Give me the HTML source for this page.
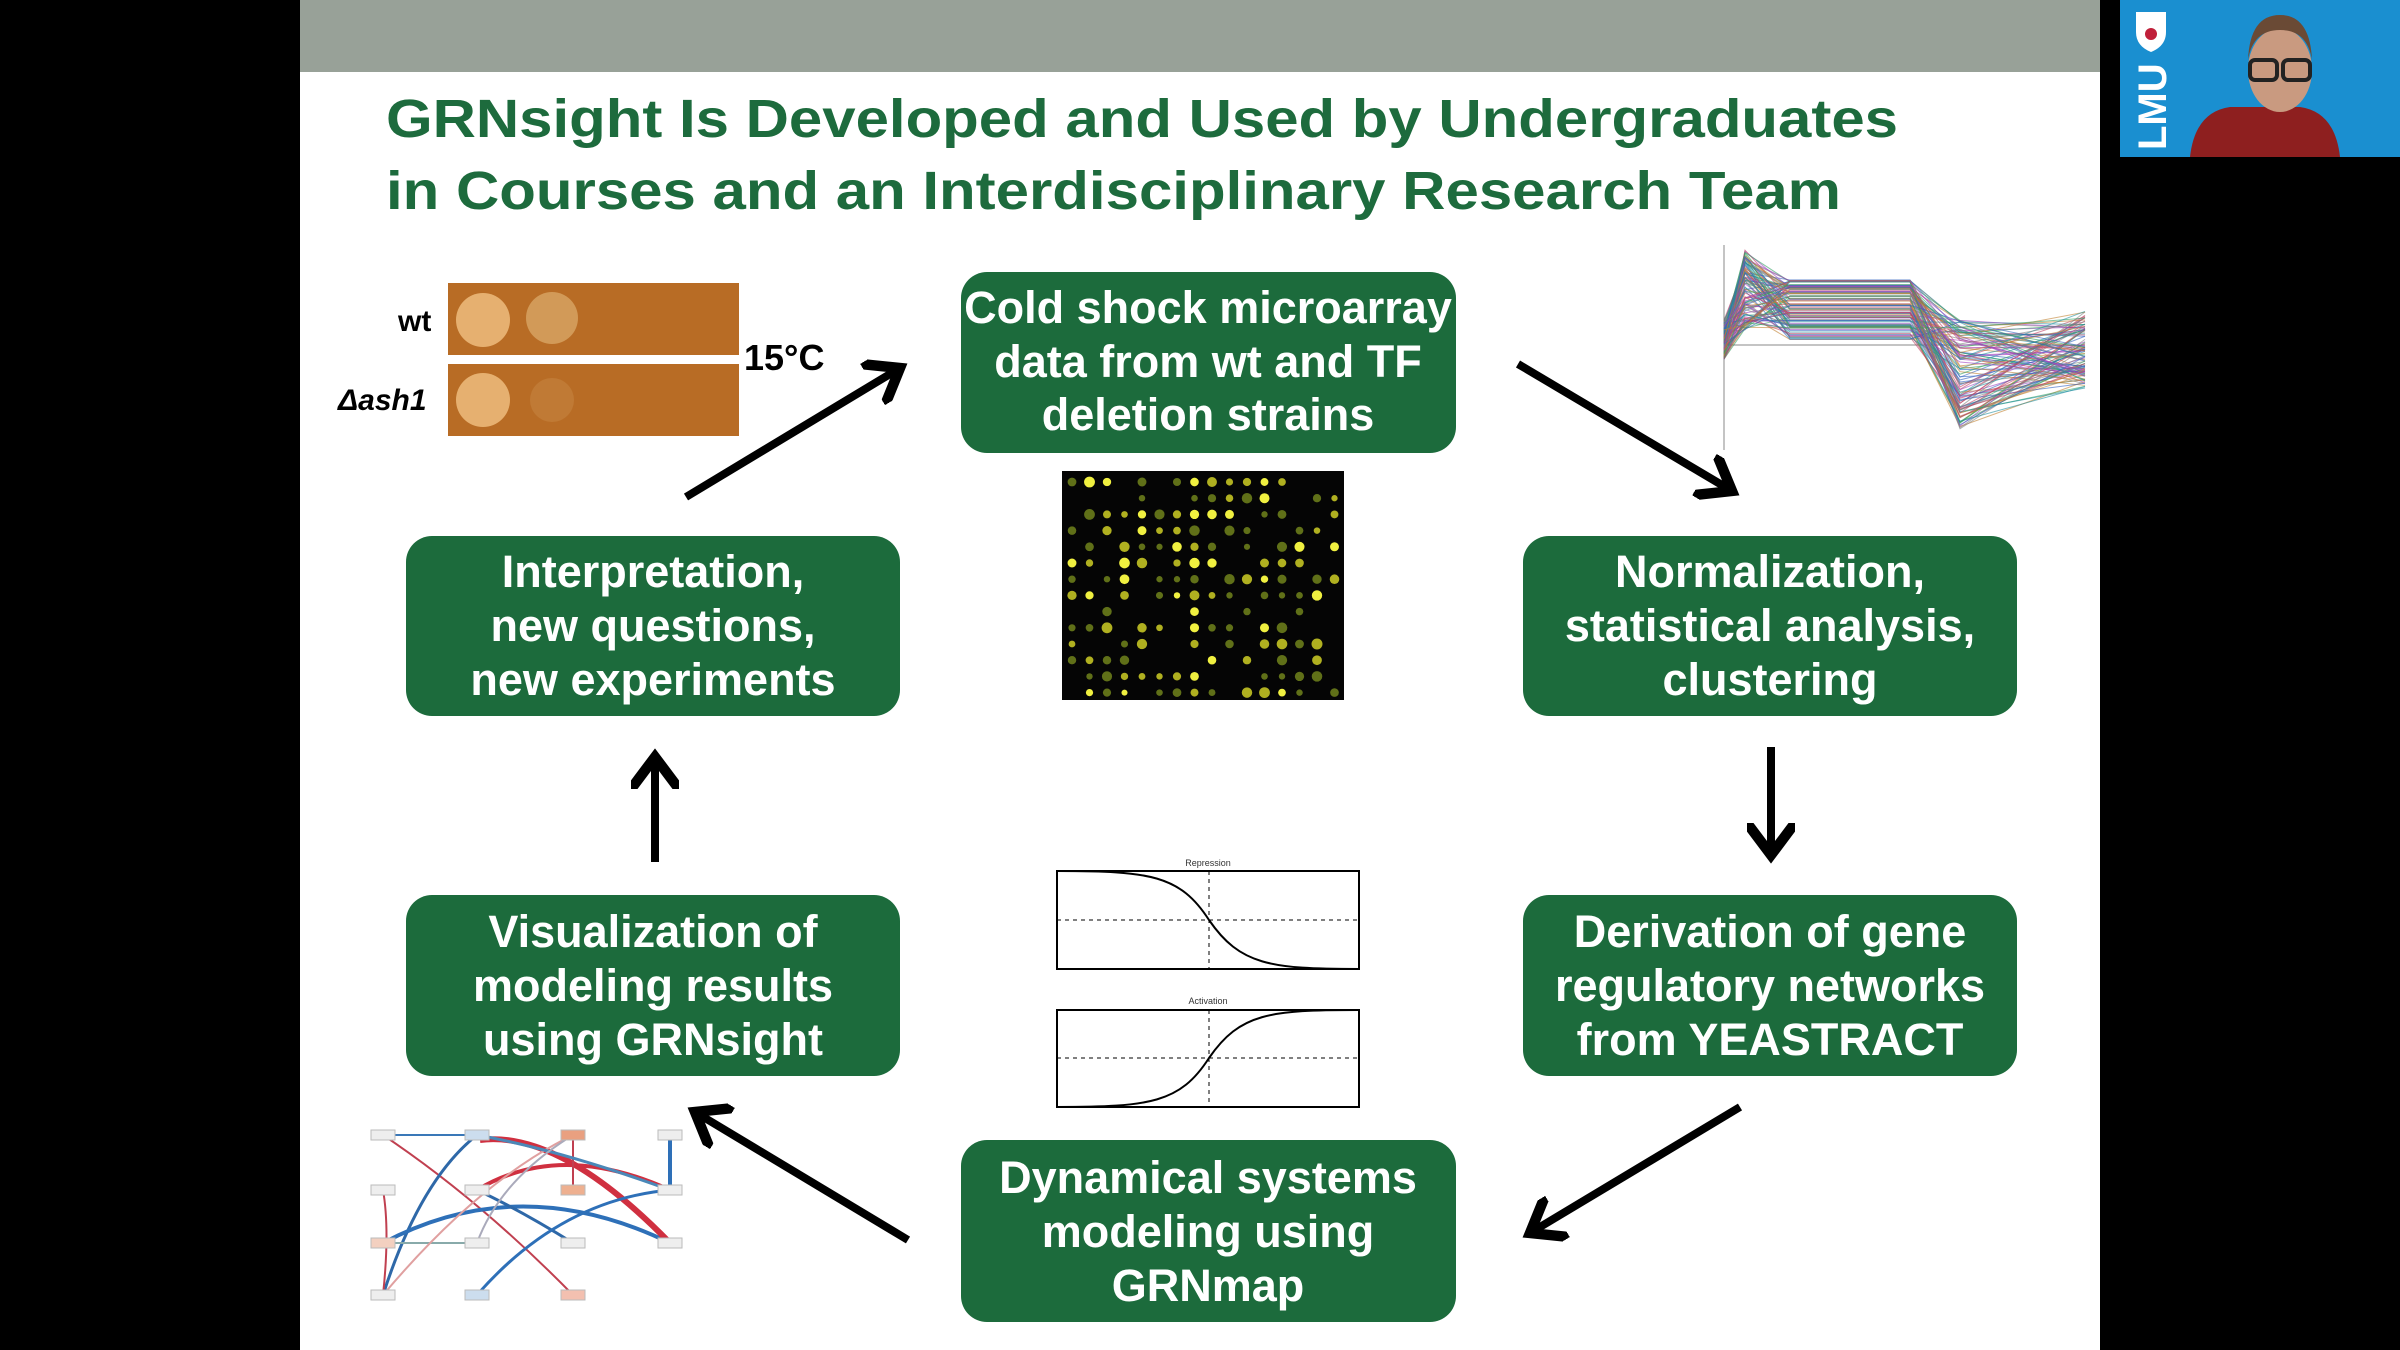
<!DOCTYPE html>
<html><head><meta charset="utf-8"><style>
html,body{margin:0;padding:0;background:#000;width:2400px;height:1350px;overflow:hidden}
svg{display:block}
.box{font-family:"Liberation Sans",sans-serif;font-weight:bold;font-size:45px;fill:#fff;text-anchor:middle}
.t{font-family:"Liberation Sans",sans-serif;font-weight:bold;font-size:54px;fill:#1d6b3d}
</style></head><body>
<svg id="s" width="2400" height="1350" viewBox="0 0 2400 1350" xmlns="http://www.w3.org/2000/svg">
<defs>
<marker id="ah" markerWidth="6" markerHeight="6" refX="4" refY="3" orient="auto" markerUnits="strokeWidth">
<path d="M0,0 L4,3 L0,6" fill="none" stroke="#000" stroke-width="1.3"/></marker>
</defs>
<rect x="0" y="0" width="2400" height="1350" fill="#000"/>
<rect x="300" y="0" width="1800" height="1350" fill="#fff"/>
<rect x="300" y="0" width="1800" height="72" fill="#98a198"/>
<!-- webcam -->
<rect x="2120" y="0" width="280" height="157" fill="#1a8fd0"/>
<path d="M2136,12 h30 v20 q0,14 -15,20 q-15,-6 -15,-20z" fill="#fff"/>
<circle cx="2151" cy="34" r="6" fill="#c0203a"/>
<text x="2166" y="150" transform="rotate(-90 2166 150)" font-family="Liberation Sans" font-weight="bold" font-size="40" fill="#fff">LMU</text>
<path d="M2190,157 q5,-45 40,-50 l70,0 q35,5 40,50z" fill="#8e1f1f"/>
<ellipse cx="2280" cy="70" rx="32" ry="42" fill="#c99a80"/>
<path d="M2248,60 q2,-45 32,-45 q30,0 32,45 q-5,-30 -32,-30 q-27,0 -32,30z" fill="#6a4a35"/>
<rect x="2250" y="60" width="27" height="20" rx="5" fill="none" stroke="#222" stroke-width="4"/>
<rect x="2283" y="60" width="27" height="20" rx="5" fill="none" stroke="#222" stroke-width="4"/>
<!-- title -->
<text class="t" x="386" y="137" textLength="1512" lengthAdjust="spacingAndGlyphs">GRNsight Is Developed and Used by Undergraduates</text>
<text class="t" x="386" y="209" textLength="1455" lengthAdjust="spacingAndGlyphs">in Courses and an Interdisciplinary Research Team</text>
<!-- boxes -->
<g fill="#1c6b3c">
<rect x="961" y="272" width="495" height="181" rx="26"/>
<rect x="406" y="536" width="494" height="180" rx="26"/>
<rect x="1523" y="536" width="494" height="180" rx="26"/>
<rect x="406" y="895" width="494" height="181" rx="26"/>
<rect x="1523" y="895" width="494" height="181" rx="26"/>
<rect x="961" y="1140" width="495" height="182" rx="26"/>
</g>
<g class="box">
<text x="1208" y="323">Cold shock microarray</text><text x="1208" y="377">data from wt and TF</text><text x="1208" y="430">deletion strains</text>
<text x="653" y="587">Interpretation,</text><text x="653" y="641">new questions,</text><text x="653" y="695">new experiments</text>
<text x="1770" y="587">Normalization,</text><text x="1770" y="641">statistical analysis,</text><text x="1770" y="695">clustering</text>
<text x="653" y="947">Visualization of</text><text x="653" y="1001">modeling results</text><text x="653" y="1055">using GRNsight</text>
<text x="1770" y="947">Derivation of gene</text><text x="1770" y="1001">regulatory networks</text><text x="1770" y="1055">from YEASTRACT</text>
<text x="1208" y="1193">Dynamical systems</text><text x="1208" y="1247">modeling using</text><text x="1208" y="1301">GRNmap</text>
</g>
<!-- arrows -->
<g stroke="#000" stroke-width="8" fill="none" marker-end="url(#ah)">
<line x1="686" y1="497" x2="900" y2="368"/>
<line x1="1518" y1="364" x2="1732" y2="491"/>
<line x1="1771" y1="747" x2="1771" y2="855"/>
<line x1="1740" y1="1107" x2="1530" y2="1233"/>
<line x1="908" y1="1240" x2="695" y2="1112"/>
<line x1="655" y1="862" x2="655" y2="757"/>
</g>
<!-- agar plate -->
<rect x="448" y="283" width="291" height="72" fill="#b86c25"/>
<rect x="448" y="364" width="291" height="72" fill="#b86c25"/>
<circle cx="483" cy="320" r="27" fill="#e6b070"/><circle cx="552" cy="318" r="26" fill="#d29a58"/>
<circle cx="483" cy="400" r="27" fill="#e6b070"/><circle cx="552" cy="400" r="22" fill="#c07a35"/>
<text x="398" y="331" font-family="Liberation Sans" font-weight="bold" font-size="30">wt</text>
<text x="338" y="410" font-family="Liberation Sans" font-weight="bold" font-style="italic" font-size="30">Δash1</text>
<text x="744" y="370" font-family="Liberation Sans" font-weight="bold" font-size="36">15°C</text>
<!-- microarray -->
<rect x="1062" y="471" width="282" height="229" fill="#050505"/>
<g id="dots"></g>
<!-- line chart -->
<g id="chart"><line x1="1724" y1="245" x2="1724" y2="450" stroke="#888" stroke-width="1"/><line x1="1724" y1="345" x2="2085" y2="345" stroke="#888" stroke-width="1"/></g>
<!-- sigmoid plots -->
<g fill="none" stroke="#000" stroke-width="2">
<rect x="1057" y="871" width="302" height="98"/>
<rect x="1057" y="1010" width="302" height="97"/>
<line x1="1057" y1="920" x2="1359" y2="920" stroke-dasharray="4 4" stroke-width="1"/>
<line x1="1209" y1="871" x2="1209" y2="969" stroke-dasharray="4 4" stroke-width="1"/>
<line x1="1057" y1="1058" x2="1359" y2="1058" stroke-dasharray="4 4" stroke-width="1"/>
<line x1="1209" y1="1010" x2="1209" y2="1107" stroke-dasharray="4 4" stroke-width="1"/>
<path d="M1057,871 C1150,871 1180,875 1209,920 C1240,965 1270,969 1359,969"/>
<path d="M1057,1107 C1150,1107 1180,1103 1209,1058 C1240,1013 1270,1010 1359,1010"/>
</g>
<g font-family="Liberation Sans" font-size="9" fill="#333" text-anchor="middle">
<text x="1208" y="866">Repression</text><text x="1208" y="1004">Activation</text>
</g>
<!-- network -->
<g fill="none" stroke-width="2">
<path d="M383,1135 L477,1135" stroke="#3a78b8"/>
<path d="M383,1135 Q480,1200 573,1295" stroke="#c04050"/>
<path d="M383,1295 Q420,1180 477,1135" stroke="#2e68a8" stroke-width="3"/>
<path d="M383,1243 Q520,1170 670,1243" stroke="#2e70b8" stroke-width="4"/>
<path d="M670,1243 Q560,1130 480,1140" stroke="#d03040" stroke-width="6"/>
<path d="M670,1190 Q560,1140 477,1190" stroke="#d03040" stroke-width="4"/>
<path d="M670,1135 L670,1190" stroke="#2e70b8" stroke-width="4"/>
<path d="M573,1135 L573,1190" stroke="#c04050"/>
<path d="M573,1243 Q520,1210 477,1190" stroke="#2e68a8" stroke-width="3"/>
<path d="M477,1295 Q560,1200 670,1190" stroke="#2e70b8" stroke-width="3"/>
<path d="M383,1243 L477,1243" stroke="#8aa"/>
<path d="M383,1190 Q390,1230 383,1295" stroke="#c04050"/>
<path d="M573,1135 Q480,1180 383,1295" stroke="#e0a0a0"/>
<path d="M670,1190 Q560,1150 477,1135" stroke="#4a88b8" stroke-width="3"/>
<path d="M477,1243 Q500,1180 573,1135" stroke="#aab"/>
</g>
<g font-family="Liberation Sans" font-size="7" text-anchor="middle">
<g fill="#eee" stroke="#bbb" stroke-width="1">
<rect x="371" y="1130" width="24" height="10"/><rect x="465" y="1130" width="24" height="10" fill="#cde"/>
<rect x="561" y="1130" width="24" height="10" fill="#e9a080"/><rect x="658" y="1130" width="24" height="10"/>
<rect x="371" y="1185" width="24" height="10"/><rect x="465" y="1185" width="24" height="10"/>
<rect x="561" y="1185" width="24" height="10" fill="#eeb090"/><rect x="658" y="1185" width="24" height="10"/>
<rect x="371" y="1238" width="24" height="10" fill="#f3d0c0"/><rect x="465" y="1238" width="24" height="10"/>
<rect x="561" y="1238" width="24" height="10"/><rect x="658" y="1238" width="24" height="10"/>
<rect x="371" y="1290" width="24" height="10"/><rect x="465" y="1290" width="24" height="10" fill="#cde"/>
<rect x="561" y="1290" width="24" height="10" fill="#f3c0b0"/>
</g></g>
<script>
(function(){
var ns="http://www.w3.org/2000/svg",d=document.getElementById("dots"),seed=7;
function r(){seed=(seed*9301+49297)%233280;return seed/233280;}
for(var i=0;i<16;i++)for(var j=0;j<14;j++){var v=r();if(v<0.35)continue;var c=document.createElementNS(ns,"circle");
c.setAttribute("cx",1072+i*17.5);c.setAttribute("cy",482+j*16.2);c.setAttribute("r",3+r()*2.5);
c.setAttribute("fill",v>0.85?"#f0f040":v>0.6?"#b0b020":"#607018");d.appendChild(c);}
var g=document.getElementById("chart"),cols=["#c04060","#3060c0","#30a060","#a040c0","#c08030","#2090a0","#808080"];
for(var k=0;k<110;k++){var y0=320+r()*40,y1=250+r()*80,y2=280+r()*60,y3=320+r()*110,y4=310+r()*80;
var p=document.createElementNS(ns,"polyline");
p.setAttribute("points","1724,"+y0+" 1745,"+y1+" 1790,"+y2+" 1910,"+y2+" 1960,"+y3+" 2085,"+y4);
p.setAttribute("fill","none");p.setAttribute("stroke",cols[k%7]);p.setAttribute("stroke-width","1");p.setAttribute("opacity","0.6");g.appendChild(p);}
})();
</script>
</svg>
</body></html>
